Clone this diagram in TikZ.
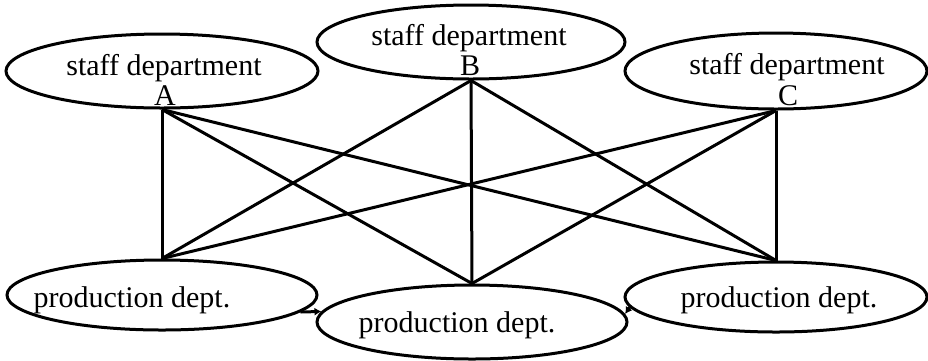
\documentclass[tikz,border=0pt]{standalone}
\usepackage{fontspec}
\setmainfont{Liberation Serif}
\usetikzlibrary{shapes.geometric,arrows.meta}
\begin{document}
\begin{tikzpicture}[x=1pt,y=-1pt,
  dept/.style={draw,ellipse,line width=3pt,inner sep=0pt},
  lbl/.style={font=\fontsize{30}{30}\selectfont,anchor=base,inner sep=0pt},
  link/.style={line width=3pt},
  tick/.style={line width=3pt,-{Latex[length=7pt,width=8pt]}}]
\useasboundingbox (0,0) rectangle (928,360);
% staff departments
\node[dept,minimum width=312pt,minimum height=74pt] (A) at (162,71) {};
\node[dept,minimum width=308pt,minimum height=74pt] (B) at (471,42) {};
\node[dept,minimum width=302pt,minimum height=76pt] (C) at (776,71) {};
% production departments
\node[dept,minimum width=310pt,minimum height=70pt] (P1) at (162,295) {};
\node[dept,minimum width=310pt,minimum height=74pt] (P2) at (472,322) {};
\node[dept,minimum width=302pt,minimum height=70pt] (P3) at (776,297) {};
% labels
\node[lbl] (A1) at (164,75) {staff department};
\node[lbl] (A2) at (165,105) {A};
\node[lbl] (B1) at (469,45) {staff department};
\node[lbl] (B2) at (470,75) {B};
\node[lbl] (C1) at (787,74) {staff department};
\node[lbl] (C2) at (788,105) {C};
\node[lbl] (P1t) at (132,307) {production dept.};
\node[lbl] (P2t) at (457,332) {production dept.};
\node[lbl] (P3t) at (779,307) {production dept.};
% connectors
\foreach \s in {A,B,C}{
  \foreach \p in {P1,P2,P3}{
    \draw[link] (\s.south) -- (\p.north);
  }
}
\draw[tick] (P1.-7) -- (P2.176);
\draw[tick] (P3.184) -- (P2.3);
\end{tikzpicture}
\end{document}
